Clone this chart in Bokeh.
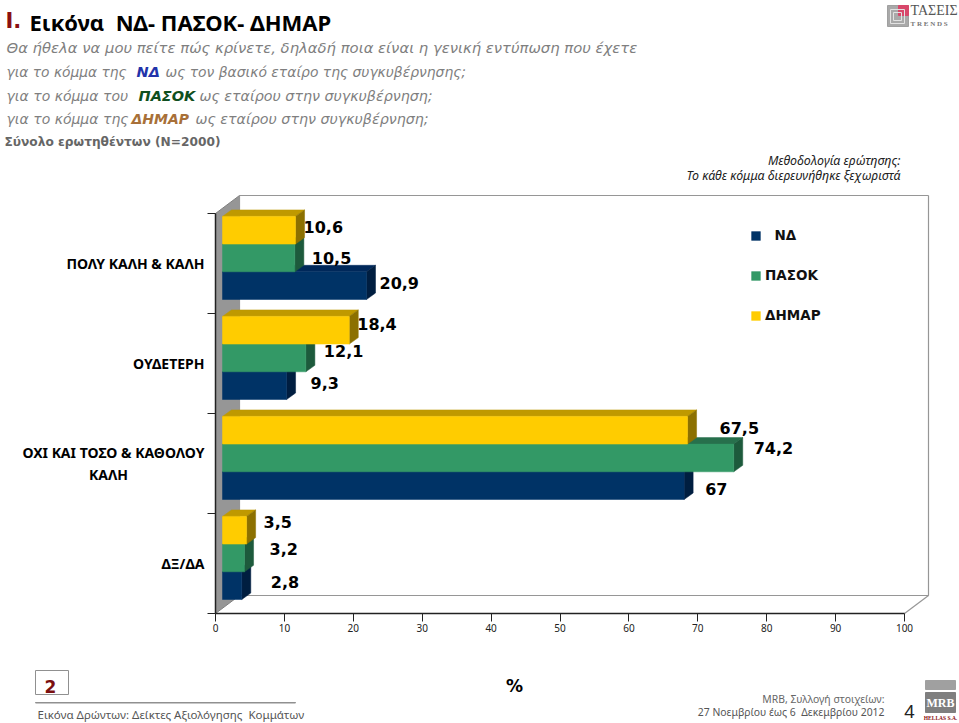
from bokeh.plotting import figure
from bokeh.models import FixedTicker, ColumnDataSource, Legend, LegendItem
from bokeh.core.properties import value
from bokeh.embed import file_html
from bokeh.resources import INLINE

NB = "\u00a0"
categories = ["ΠΟΛΥ ΚΑΛΗ & ΚΑΛΗ", "ΟΥΔΕΤΕΡΗ", "ΟΧΙ ΚΑΙ ΤΟΣΟ & ΚΑΘΟΛΟΥ\nΚΑΛΗ" + NB * 21, "ΔΞ/ΔΑ"]
nd = [20.9, 9.3, 67, 2.8]
pasok = [10.5, 12.1, 74.2, 3.2]
dimar = [10.6, 18.4, 67.5, 3.5]
nd_labels = ["20,9", "9,3", "67", "2,8"]
pasok_labels = ["10,5", "12,1", "74,2", "3,2"]
dimar_labels = ["10,6", "18,4", "67,5", "3,5"]
x_ticks = [0, 10, 20, 30, 40, 50, 60, 70, 80, 90, 100]

# layout constants (reference pixels)
W, H = 959, 723
F_L, F_B = 215, 613
PX_X = 6.89   # pixels per x unit
PX_Y = 100.0  # pixels per category band

def dx(px):
    return px / PX_X
def dy(px):
    return px / PX_Y
def X(px):
    return (px - F_L) / PX_X
def Y(py):
    return (F_B - py) / PX_Y

p = figure(width=W, height=H, output_backend="svg", toolbar_location=None,
           x_range=(X(0), X(W)), y_range=(Y(H), Y(0)),
           min_border=0, x_axis_location="below", y_axis_location="left")
p.grid.visible = False
p.outline_line_color = None
p.background_fill_color = "white"

# x axis
xa = p.xaxis[0]
xa.fixed_location = 0
xa.ticker = FixedTicker(ticks=x_ticks)
xa.bounds = (0, 100)
xa.axis_line_color = "#222222"
xa.axis_line_width = 1.5
xa.major_tick_line_color = "#222222"
xa.major_tick_out = 8
xa.major_tick_in = 0
xa.minor_tick_line_color = None
xa.major_label_text_font = "Noto Sans"
xa.major_label_text_font_size = "10px"
xa.major_label_text_color = "#222222"
xa.major_label_standoff = 2

# y axis: labels at band centres, ticks at band edges
ya = p.yaxis[0]
ya.fixed_location = 0
n = len(categories)
centres = [n - 1 - i + 0.5 for i in range(n)]
ya.ticker = FixedTicker(ticks=centres, minor_ticks=list(range(n + 1)))
ya.major_label_overrides = {c: categories[i] for i, c in enumerate(centres)}
ya.bounds = (0, n)
ya.axis_line_color = "#222222"
ya.axis_line_width = 1.5
ya.major_tick_line_color = None
ya.major_tick_out = 0
ya.major_tick_in = 0
ya.minor_tick_line_color = "#222222"
ya.minor_tick_out = 8
ya.minor_tick_in = 0
ya.major_label_text_font = "Noto Sans"
ya.major_label_text_font_style = "bold"
ya.major_label_text_font_size = "14px"
ya.major_label_text_color = "#000000"
ya.major_label_standoff = 3

# back wall, side wall, floor edges
DEPTH_X, DEPTH_Y = 24, 18
xmax = 100
wall_l, wall_b, wall_t = dx(DEPTH_X), dy(DEPTH_Y), n + dy(DEPTH_Y)
p.patch([0, wall_l, wall_l, 0], [0, wall_b, wall_t, n],
        fill_color="#969696", line_color="#808080", line_width=1)
p.line([wall_l, wall_l, xmax + dx(DEPTH_X), xmax + dx(DEPTH_X)],
       [wall_t, wall_b, wall_b, wall_t], line_color="#969696", line_width=1.2)
p.line([wall_l, xmax + dx(DEPTH_X)], [wall_t, wall_t], line_color="#969696", line_width=1.2)
p.line([xmax, xmax + dx(DEPTH_X)], [0, wall_b], line_color="#969696", line_width=1.2)

# bars
BAR_H = 27.7
BAR_X0, BAR_BOTTOM = 7, 14   # front face origin in pixels from axes
D_X, D_Y = 9, 6.5            # bar depth in pixels

def bar_series(values, slot, front, top, side):
    base = [n - 1 - i for i in range(n)]
    order = list(range(n))[::-1]
    x0 = dx(BAR_X0)
    l, r, b, t = [], [], [], []
    tx, ty, sx, sy = [], [], [], []
    for i in order:
        v = values[i]
        lo = base[i] + dy(BAR_BOTTOM) + dy(BAR_H) * slot
        hi = lo + dy(BAR_H)
        right = x0 + v
        l.append(x0); r.append(right); b.append(lo); t.append(hi)
        tx.append([x0, right, right + dx(D_X), x0 + dx(D_X)])
        ty.append([hi, hi, hi + dy(D_Y), hi + dy(D_Y)])
        sx.append([right, right + dx(D_X), right + dx(D_X), right])
        sy.append([lo, lo + dy(D_Y), hi + dy(D_Y), hi])
    p.patches(tx, ty, fill_color=top, line_color=top, line_width=0.5)
    p.patches(sx, sy, fill_color=side, line_color=side, line_width=0.5)
    return p.quad(left=l, right=r, bottom=b, top=t, fill_color=front, line_color=front, line_width=0.5)

r_nd = bar_series(nd, 0, "#003366", "#00285A", "#001E40")
r_pasok = bar_series(pasok, 1, "#339966", "#27704C", "#1D5A3C")
r_dimar = bar_series(dimar, 2, "#FFCC00", "#BF9900", "#8C7000")

# value labels: horizontal and vertical nudges in pixels from the bar end
nudge_nd = [(13, -3), (24, -3), (21, 3), (29, -4)]
nudge_pasok = [(17, 0), (18, -6.5), (20, -9.5), (25, -8.5)]
nudge_dimar = [(8, -3.5), (8, -6.5), (32, -2.5), (17, -8.5)]

def value_labels(values, labels, slot, nudges):
    src = ColumnDataSource(dict(
        x=[dx(BAR_X0) + v for v in values],
        y=[n - 1 - i + dy(BAR_BOTTOM) + dy(BAR_H) * (slot + 0.5) for i in range(n)],
        t=labels,
        xo=[a for a, _ in nudges],
        yo=[b for _, b in nudges]))
    p.text("x", "y", text="t", source=src, x_offset="xo", y_offset="yo",
           text_font=value("DejaVu Sans"), text_font_style="bold", text_font_size="16px",
           text_color="#000000", text_align="left", text_baseline="middle")

value_labels(nd, nd_labels, 0, nudge_nd)
value_labels(pasok, pasok_labels, 1, nudge_pasok)
value_labels(dimar, dimar_labels, 2, nudge_dimar)

# legend
legend = Legend(items=[LegendItem(label=NB + NB + "ΝΔ", renderers=[r_nd]),
                       LegendItem(label="ΠΑΣΟΚ", renderers=[r_pasok]),
                       LegendItem(label="ΔΗΜΑΡ", renderers=[r_dimar])],
                location=(750, H - 323), orientation="vertical",
                glyph_width=11, glyph_height=11, spacing=24, padding=6, margin=0,
                label_standoff=4, label_height=16,
                background_fill_alpha=0, border_line_color=None,
                label_text_font="DejaVu Sans", label_text_font_style="bold", label_text_font_size="13.5px",
                label_text_color="#111111")
p.add_layout(legend)

def txt(x, y, s, size, color="#000000", font="DejaVu Sans", style="normal", align="left"):
    p.text([X(x)], [Y(y)], text=[s], text_font=value(font), text_font_size=f"{size}px",
           text_font_style=style, text_color=color, text_align=align, text_baseline="middle")

def box(l, t, r, b, fill=None, line=None):
    p.quad(left=[X(l)], right=[X(r)], top=[Y(t)], bottom=[Y(b)],
           fill_color=fill, line_color=line, line_width=1)

GR = "#7F7F7F"
txt(5, 20, "I.", 21, "#8B1010", "DejaVu Sans", "bold")
txt(29, 21, f"Εικόνα{NB}{NB}ΝΔ- ΠΑΣΟΚ- ΔΗΜΑΡ", 22, "#000000", "Noto Sans", "bold")
txt(6, 47, "Θα ήθελα να μου πείτε πώς κρίνετε, δηλαδή ποια είναι η γενική εντύπωση που έχετε", 14.8, GR, style="italic")
txt(6, 71, "για το κόμμα της", 13.8, GR, style="italic")
txt(136, 71, "ΝΔ", 14.5, "#2233AA", style="bold italic")
txt(165, 71, "ως τον βασικό εταίρο της συγκυβέρνησης;", 13.9, GR, style="italic")
txt(6, 95, "για το κόμμα του", 14, GR, style="italic")
txt(138, 95, "ΠΑΣΟΚ", 14.5, "#0F4F20", style="bold italic")
txt(199, 95, "ως εταίρου στην συγκυβέρνηση;", 14.25, GR, style="italic")
txt(6, 118, "για το κόμμα της", 14, GR, style="italic")
txt(131, 118, "ΔΗΜΑΡ", 14, "#A87038", style="bold italic")
txt(195, 118, "ως εταίρου στην συγκυβέρνηση;", 14.25, GR, style="italic")
txt(4, 141, "Σύνολο ερωτηθέντων (Ν=2000)", 12.2, "#666666", style="bold")
txt(900, 160, "Μεθοδολογία ερώτησης:", 12.4, "#222222", "Noto Sans", "italic", "right")
txt(900, 175, "Το κάθε κόμμα διερευνήθηκε ξεχωριστά", 12.4, "#222222", "Noto Sans", "italic", "right")

# page furniture
box(887, 5, 908, 26, "#A9A9A9", "#A0A0A0")
box(898, 5, 908, 15, "#D8476A", "#D8476A")
box(890, 9, 904, 23, None, "#E2E2E2")
box(893, 12, 901, 20, None, "#E2E2E2")
txt(910, 10, "ΤΑΣΕΙΣ", 14, "#555555", "Liberation Serif")
txt(910, 23, f"T{NB}R{NB}E{NB}N{NB}D{NB}S", 7, "#777777", "Liberation Serif", "bold")

box(35, 670, 68, 694, "#FFFFFF", "#909090")
txt(50, 686, "2", 17, "#7B1010", style="bold", align="center")
box(35, 702, 295, 702.5, "#909090", "#909090")
txt(37, 714, f"Εικόνα Δρώντων: Δείκτες Αξιολόγησης{NB}{NB}Κομμάτων", 11.5, "#555555", "Noto Sans")
txt(514, 685, "%", 17, "#000000", style="bold", align="center")
txt(884, 698, "MRB, Συλλογή στοιχείων:", 10.4, "#666666", "Noto Sans", align="right")
txt(884, 711, f"27 Νοεμβρίου έως 6{NB}{NB}Δεκεμβρίου 2012", 10.4, "#555555", "Noto Sans", align="right")
txt(909, 711, "4", 18, "#222222", "Noto Sans", align="center")
box(925, 680, 955, 689, "#A0A0A0", "#A0A0A0")
box(925, 692, 955, 712, "#7F7F7F", "#7F7F7F")
txt(940, 702, "MRB", 12, "#FFFFFF", "Liberation Serif", "bold", "center")
txt(940, 717, "HELLAS S.A.", 5.5, "#8B1010", "Liberation Serif", "bold", "center")

open("out.html", "w").write(file_html(p, INLINE))
